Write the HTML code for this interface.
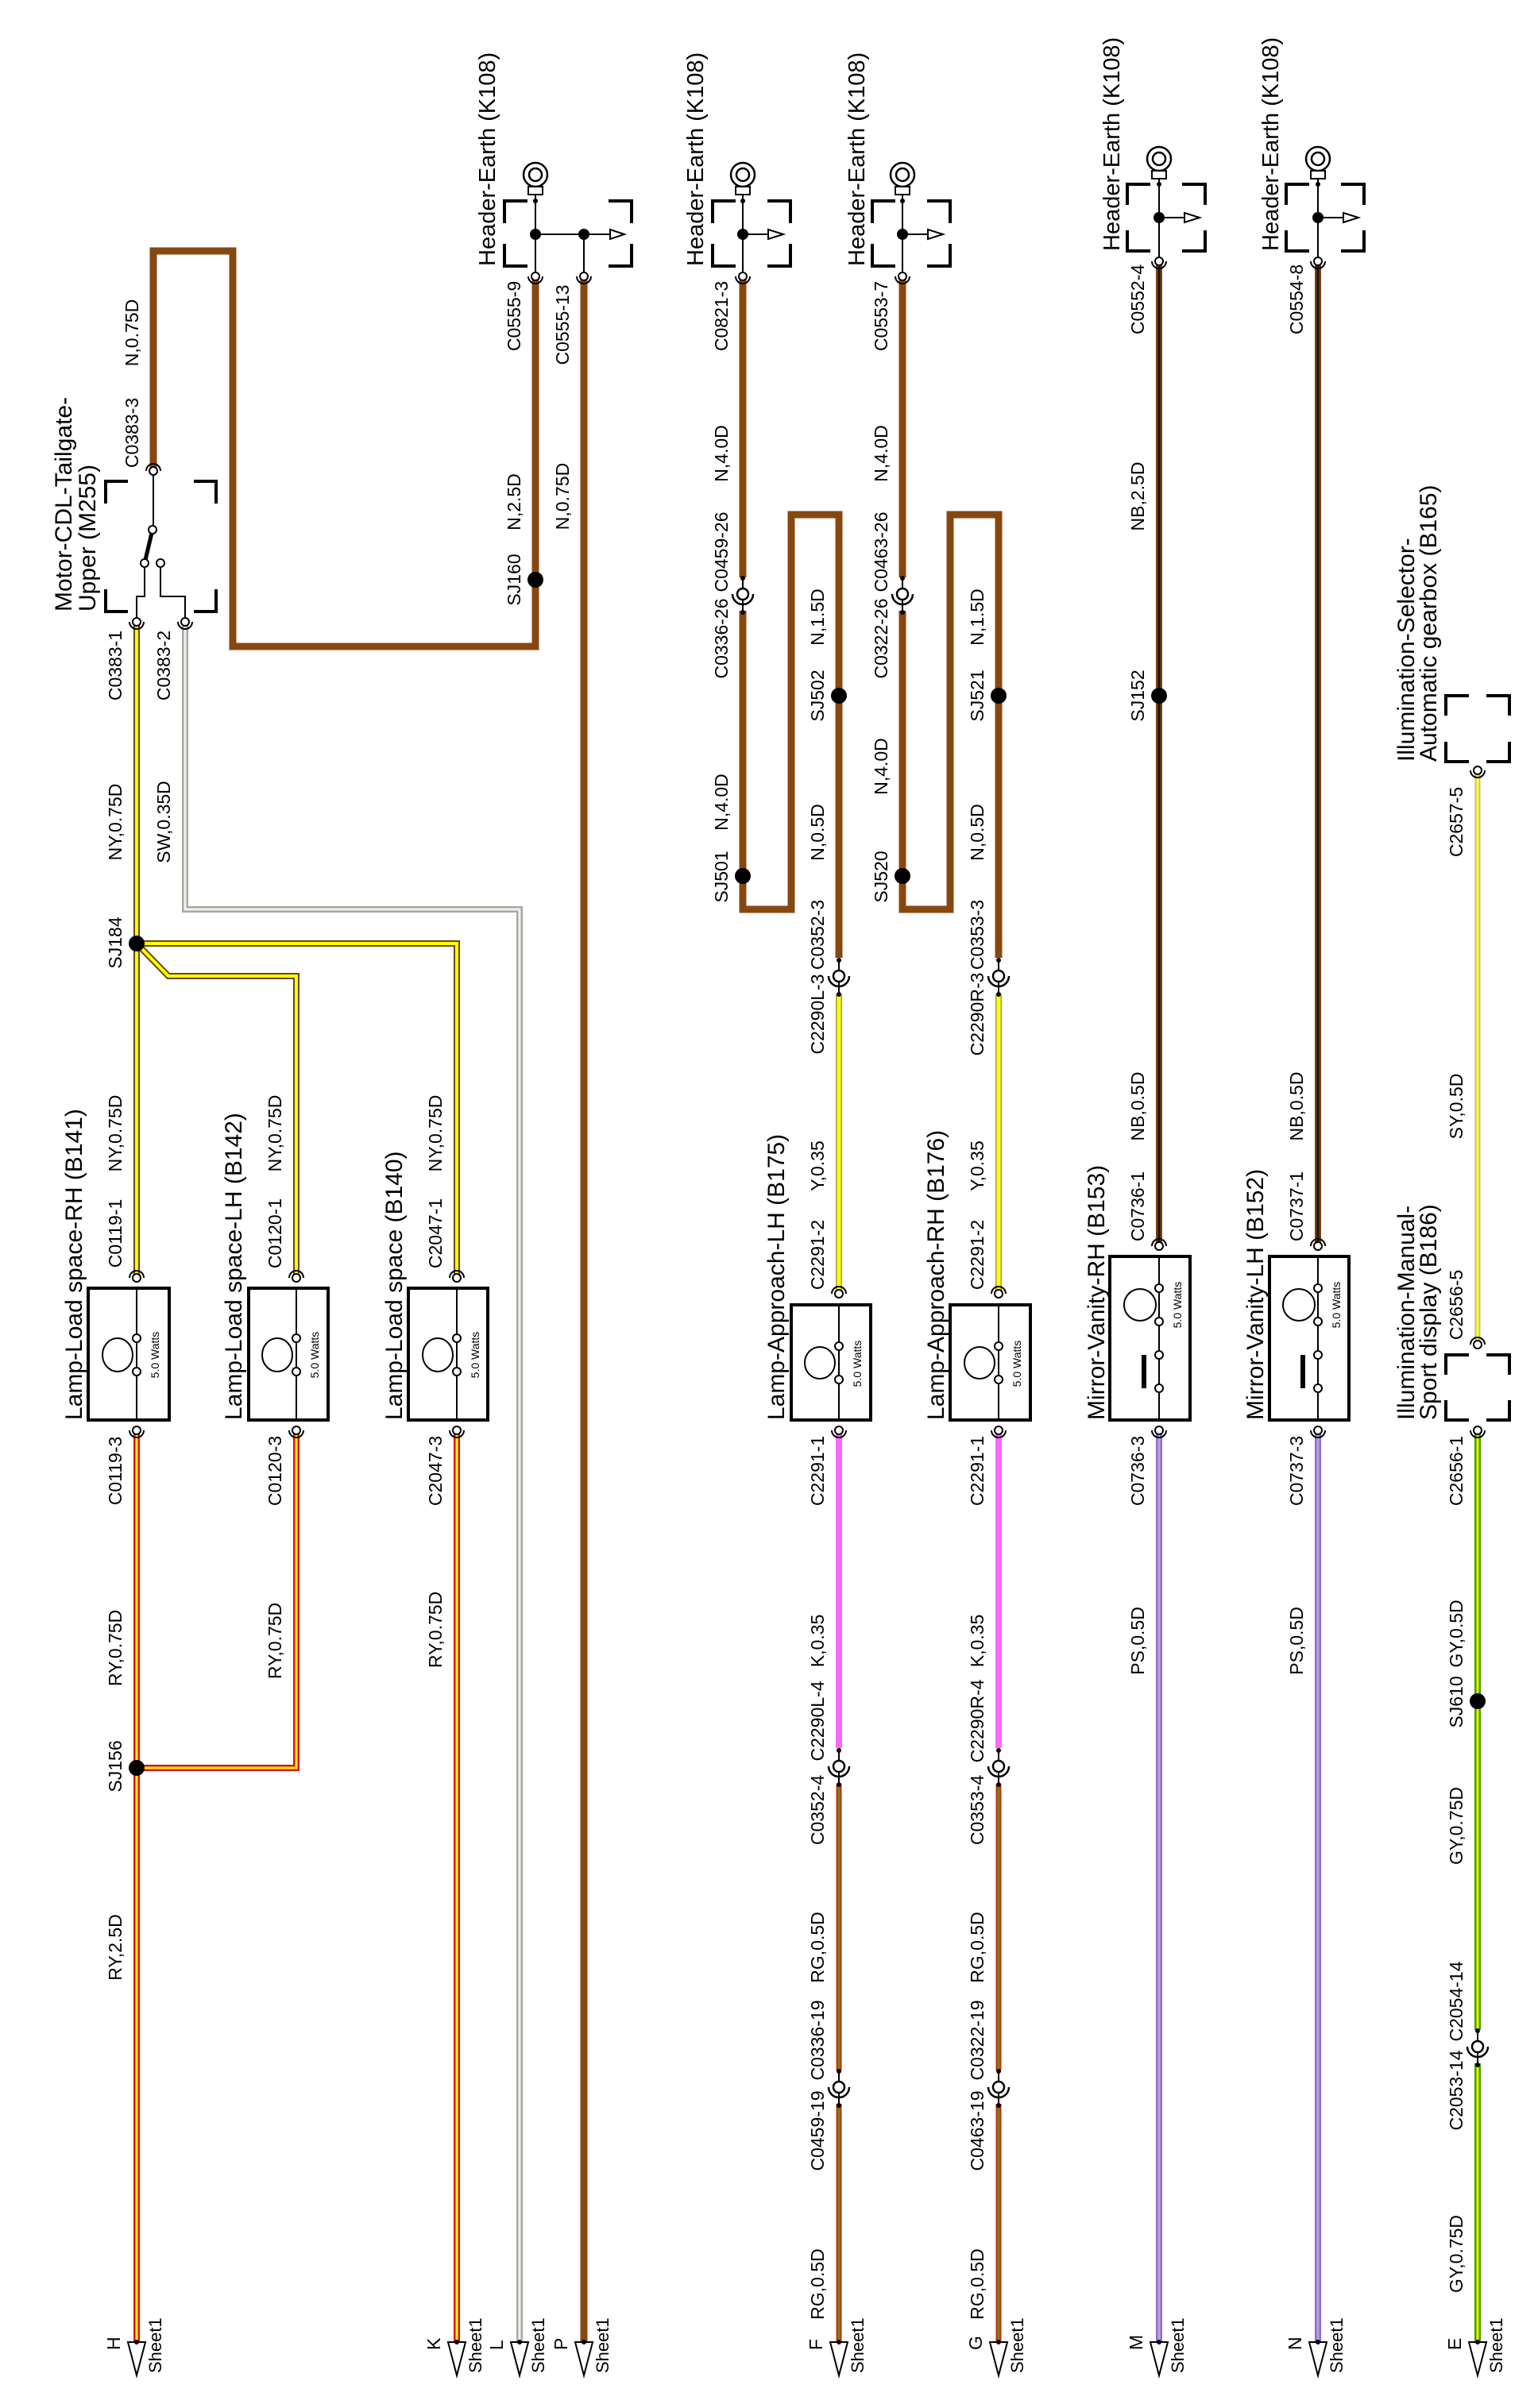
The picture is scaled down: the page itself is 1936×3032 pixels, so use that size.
<!DOCTYPE html>
<html><head><meta charset="utf-8"><style>
html,body{margin:0;padding:0;background:#fff;}
svg{display:block;}
text{font-family:"Liberation Sans",Arial,sans-serif;fill:#000;}
.l{font-size:23px;}
.t{font-size:30px;}
.h{font-size:29px;}
.w{font-size:14px;}
.s{font-size:22px;}
</style></head><body>
<svg width="1936" height="3032" viewBox="0 0 1936 3032" xmlns="http://www.w3.org/2000/svg">
<defs>
<g id="ca"><circle r="5" fill="#fff" stroke="#000" stroke-width="2"/><path d="M-9,0 A9,9 0 0 1 9,0" fill="none" stroke="#000" stroke-width="2"/></g>
<g id="cb"><circle r="5" fill="#fff" stroke="#000" stroke-width="2"/><path d="M-9,0 A9,9 0 0 0 9,0" fill="none" stroke="#000" stroke-width="2"/></g>
<g id="ic"><rect x="-7" y="-21" width="14" height="42" fill="#fff"/><line x1="0" y1="-20" x2="0" y2="22" stroke="#000" stroke-width="2"/><circle cy="-20" r="3" fill="#000"/><circle cy="23" r="3" fill="#000"/><circle r="7" fill="#fff" stroke="#000" stroke-width="2.5"/><path d="M-13,0 A13,13 0 0 0 13,0" fill="none" stroke="#000" stroke-width="2.5"/></g>
<g id="ar"><polygon points="-11,0 11,0 0,42" fill="#fff" stroke="#000" stroke-width="2"/><circle r="3" fill="#000"/></g>
<g id="ring"><circle r="15" fill="#fff" stroke="#000" stroke-width="2.5"/><circle r="8" fill="none" stroke="#000" stroke-width="2.5"/><rect x="-9" y="15" width="18" height="10" fill="#fff" stroke="#000" stroke-width="2"/></g>
</defs>
<rect width="1936" height="3032" fill="#fff"/>

<g fill="none">
<path d="M193,593 V316 H293 V814 H674 V348" stroke="#87480f" stroke-width="9"/>
<path d="M735,348 V2949" stroke="#87480f" stroke-width="9"/>
<path d="M935,348 V1145 H996 V648 H1056 V1206" stroke="#87480f" stroke-width="9"/>
<path d="M1136,348 V1145 H1196 V648 H1257 V1206" stroke="#87480f" stroke-width="9"/>
<g stroke="#6b4a10" stroke-width="8"><path d="M172,783 V1609"/><path d="M172,1188 H575 V1609"/><path d="M172,1188 L212,1229 H373 V1609"/></g>
<g stroke="#ffff00" stroke-width="4"><path d="M172,783 V1609"/><path d="M172,1188 H575 V1609"/><path d="M172,1188 L212,1229 H373 V1609"/></g>
<path d="M233,783 V1145 H654 V2949" stroke="#a8a8a0" stroke-width="8"/>
<path d="M233,783 V1145 H654 V2949" stroke="#f2f2f2" stroke-width="3"/>
<g stroke="#e01010" stroke-width="8"><path d="M172,1801 V2949"/><path d="M172,2226 H373 V1801"/><path d="M575,1801 V2949"/></g>
<g stroke="#ffff00" stroke-width="3"><path d="M172,1801 V2949"/><path d="M172,2226 H373 V1801"/><path d="M575,1801 V2949"/></g>
<g stroke="#9c9c50" stroke-width="8"><path d="M1056,1252 V1629"/><path d="M1257,1252 V1629"/></g>
<g stroke="#ffff00" stroke-width="5"><path d="M1056,1252 V1629"/><path d="M1257,1252 V1629"/></g>
<g stroke="#ff66ff" stroke-width="8"><path d="M1056,1801 V2201"/><path d="M1257,1801 V2201"/></g>
<g stroke="#d42a00" stroke-width="7"><path d="M1056,2247 V2949"/><path d="M1257,2247 V2949"/></g>
<g stroke="#5f8d2a" stroke-width="3"><path d="M1056,2247 V2949"/><path d="M1257,2247 V2949"/></g>
<g stroke="#7a4210" stroke-width="8"><path d="M1459,329 V1569"/><path d="M1659,329 V1569"/></g>
<g stroke="#151515" stroke-width="3"><path d="M1459,329 V1569"/><path d="M1659,329 V1569"/></g>
<g stroke="#8f70c4" stroke-width="8"><path d="M1459,1801 V2949"/><path d="M1659,1801 V2949"/></g>
<g stroke="#b9a2e4" stroke-width="3"><path d="M1459,1801 V2949"/><path d="M1659,1801 V2949"/></g>
<path d="M1860,970 V1693" stroke="#c8c070" stroke-width="7"/>
<path d="M1860,970 V1693" stroke="#ffff40" stroke-width="3"/>
<path d="M1860,1801 V2949" stroke="#40a000" stroke-width="8"/>
<path d="M1860,1801 V2949" stroke="#f0f000" stroke-width="3"/>
</g>

<use href="#ic" x="935" y="748"/><use href="#ic" x="1136" y="748"/>
<use href="#ic" x="1056" y="1229"/><use href="#ic" x="1257" y="1229"/>
<use href="#ic" x="1056" y="2224"/><use href="#ic" x="1257" y="2224"/>
<use href="#ic" x="1056" y="2628"/><use href="#ic" x="1257" y="2628"/>
<use href="#ic" x="1860" y="2577"/>

<g fill="#000">
<circle cx="674" cy="730" r="10"/><circle cx="172" cy="1188" r="10"/><circle cx="172" cy="2226" r="10"/>
<circle cx="935" cy="1103" r="10"/><circle cx="1056" cy="876" r="10"/><circle cx="1136" cy="1103" r="10"/>
<circle cx="1257" cy="876" r="10"/><circle cx="1459" cy="876" r="10"/><circle cx="1860" cy="2142" r="10"/>
</g>

<use href="#ar" x="172" y="2949"/><use href="#ar" x="575" y="2949"/><use href="#ar" x="654" y="2949"/>
<use href="#ar" x="735" y="2949"/><use href="#ar" x="1056" y="2949"/><use href="#ar" x="1257" y="2949"/>
<use href="#ar" x="1459" y="2949"/><use href="#ar" x="1659" y="2949"/><use href="#ar" x="1860" y="2949"/>

<g stroke="#000" fill="none">
<line x1="674" y1="245" x2="674" y2="348" stroke-width="2"/>
<line x1="674" y1="295" x2="768" y2="295" stroke-width="2"/>
<line x1="735" y1="295" x2="735" y2="348" stroke-width="2"/>
<polygon points="768,289 768,301 786,295" fill="#fff" stroke-width="2"/>
<path d="M664,253 H635 V281 M766,253 H795 V281 M635,307 V335 H664 M795,307 V335 H766" stroke-width="4"/>
<line x1="935" y1="245" x2="935" y2="348" stroke-width="2"/>
<line x1="935" y1="295" x2="967" y2="295" stroke-width="2"/>
<polygon points="967,289 967,301 986,295" fill="#fff" stroke-width="2"/>
<path d="M926,253 H897 V281 M966,253 H995 V281 M897,307 V335 H926 M995,307 V335 H966" stroke-width="4"/>
<line x1="1136" y1="245" x2="1136" y2="348" stroke-width="2"/>
<line x1="1136" y1="295" x2="1168" y2="295" stroke-width="2"/>
<polygon points="1168,289 1168,301 1187,295" fill="#fff" stroke-width="2"/>
<path d="M1127,253 H1098 V281 M1167,253 H1196 V281 M1098,307 V335 H1127 M1196,307 V335 H1167" stroke-width="4"/>
<line x1="1459" y1="225" x2="1459" y2="329" stroke-width="2"/>
<line x1="1459" y1="274" x2="1491" y2="274" stroke-width="2"/>
<polygon points="1491,268 1491,280 1510,274" fill="#fff" stroke-width="2"/>
<path d="M1448,232 H1419 V258 M1488,232 H1517 V258 M1419,290 V316 H1448 M1517,290 V316 H1488" stroke-width="4"/>
<line x1="1659" y1="225" x2="1659" y2="329" stroke-width="2"/>
<line x1="1659" y1="274" x2="1691" y2="274" stroke-width="2"/>
<polygon points="1691,268 1691,280 1710,274" fill="#fff" stroke-width="2"/>
<path d="M1648,232 H1619 V258 M1688,232 H1717 V258 M1619,290 V316 H1648 M1717,290 V316 H1688" stroke-width="4"/>
<path d="M1849,876 H1820 V901 M1871,876 H1900 V901 M1820,934 V959 H1849 M1900,934 V959 H1871" stroke-width="4"/>
<path d="M1849,1706 H1820 V1731 M1871,1706 H1900 V1731 M1820,1763 V1788 H1849 M1900,1763 V1788 H1871" stroke-width="4"/>
<path d="M161,606 H133 V634 M244,606 H272 V634 M133,742 V770 H161 M272,742 V770 H244" stroke-width="4"/>
<path d="M193,593 V667" stroke-width="2"/>
<path d="M192,667 L182,709" stroke-width="5"/>
<path d="M182,709 V751 H172 V783 M202,709 V751 H233 V783" stroke-width="2"/>
</g>
<g fill="#fff" stroke="#000" stroke-width="2">
<circle cx="192" cy="667" r="5"/><circle cx="182" cy="709" r="5"/><circle cx="202" cy="709" r="5"/>
</g>
<use href="#ring" x="674" y="220"/><use href="#ring" x="935" y="220"/><use href="#ring" x="1136" y="220"/>
<use href="#ring" x="1459" y="200"/><use href="#ring" x="1659" y="200"/>
<g fill="#000">
<circle cx="674" cy="295" r="7"/><circle cx="735" cy="295" r="7"/><circle cx="935" cy="295" r="7"/>
<circle cx="1136" cy="295" r="7"/><circle cx="1459" cy="274" r="7"/><circle cx="1659" cy="274" r="7"/>
<circle cx="674" cy="253" r="3"/><circle cx="935" cy="253" r="3"/><circle cx="1136" cy="253" r="3"/>
<circle cx="1459" cy="232" r="3"/><circle cx="1659" cy="232" r="3"/>
</g>

<g stroke="#000" fill="#fff">
<rect x="111" y="1622" width="102" height="166" stroke-width="4"/>
<rect x="313" y="1622" width="100" height="166" stroke-width="4"/>
<rect x="514" y="1622" width="100" height="166" stroke-width="4"/>
<rect x="996" y="1643" width="100" height="145" stroke-width="4"/>
<rect x="1196" y="1643" width="101" height="145" stroke-width="4"/>
<rect x="1397" y="1582" width="101" height="206" stroke-width="4"/>
<rect x="1598" y="1582" width="100" height="206" stroke-width="4"/>
</g>
<g stroke="#000" stroke-width="2" fill="none">
<path d="M172,1622 V1788 M373,1622 V1788 M575,1622 V1788 M1056,1643 V1788 M1257,1643 V1788 M1459,1582 V1788 M1659,1582 V1788"/>
<ellipse cx="148" cy="1706" rx="19" ry="21"/>
<ellipse cx="349" cy="1706" rx="19" ry="21"/>
<ellipse cx="551" cy="1706" rx="19" ry="21"/>
<ellipse cx="1032" cy="1716" rx="19" ry="20"/>
<ellipse cx="1233" cy="1716" rx="19" ry="20"/>
<ellipse cx="1435" cy="1643" rx="20" ry="20"/>
<ellipse cx="1635" cy="1643" rx="20" ry="20"/>
</g>
<g fill="#fff" stroke="#000" stroke-width="2">
<circle cx="172" cy="1685" r="5"/><circle cx="172" cy="1727" r="5"/>
<circle cx="373" cy="1685" r="5"/><circle cx="373" cy="1727" r="5"/>
<circle cx="575" cy="1685" r="5"/><circle cx="575" cy="1727" r="5"/>
<circle cx="1056" cy="1695" r="5"/><circle cx="1056" cy="1737" r="5"/>
<circle cx="1257" cy="1695" r="5"/><circle cx="1257" cy="1737" r="5"/>
<circle cx="1459" cy="1622" r="5"/><circle cx="1459" cy="1664" r="5"/><circle cx="1459" cy="1706" r="5"/><circle cx="1459" cy="1748" r="5"/>
<circle cx="1659" cy="1622" r="5"/><circle cx="1659" cy="1664" r="5"/><circle cx="1659" cy="1706" r="5"/><circle cx="1659" cy="1748" r="5"/>
</g>
<rect x="1437" y="1706" width="6" height="42" fill="#000"/>
<rect x="1637" y="1706" width="6" height="42" fill="#000"/>

<use href="#ca" x="193" y="593"/>
<use href="#cb" x="172" y="783"/><use href="#cb" x="233" y="783"/>
<use href="#cb" x="674" y="348"/><use href="#cb" x="735" y="348"/><use href="#cb" x="935" y="348"/><use href="#cb" x="1136" y="348"/>
<use href="#cb" x="1459" y="329"/><use href="#cb" x="1659" y="329"/><use href="#cb" x="1860" y="970"/>
<use href="#ca" x="172" y="1609"/><use href="#ca" x="373" y="1609"/><use href="#ca" x="575" y="1609"/>
<use href="#ca" x="1056" y="1629"/><use href="#ca" x="1257" y="1629"/>
<use href="#ca" x="1459" y="1569"/><use href="#ca" x="1659" y="1569"/><use href="#ca" x="1860" y="1693"/>
<use href="#cb" x="172" y="1801"/><use href="#cb" x="373" y="1801"/><use href="#cb" x="575" y="1801"/>
<use href="#cb" x="1056" y="1801"/><use href="#cb" x="1257" y="1801"/><use href="#cb" x="1459" y="1801"/>
<use href="#cb" x="1659" y="1801"/><use href="#cb" x="1860" y="1801"/>

<g class="t">
<text class="t" transform="translate(90,770) rotate(-90)">Motor-CDL-Tailgate-</text>
<text class="t" transform="translate(120,770) rotate(-90)">Upper (M255)</text>
<text class="t" transform="translate(103,1788) rotate(-90)">Lamp-Load space-RH (B141)</text>
<text class="t" transform="translate(304,1788) rotate(-90)">Lamp-Load space-LH (B142)</text>
<text class="t" transform="translate(506,1788) rotate(-90)">Lamp-Load space (B140)</text>
<text class="t" transform="translate(987,1788) rotate(-90)">Lamp-Approach-LH (B175)</text>
<text class="t" transform="translate(1188,1788) rotate(-90)">Lamp-Approach-RH (B176)</text>
<text class="t" transform="translate(1390,1788) rotate(-90)">Mirror-Vanity-RH (B153)</text>
<text class="t" transform="translate(1590,1788) rotate(-90)">Mirror-Vanity-LH (B152)</text>
<text class="t" transform="translate(1780,959) rotate(-90)">Illumination-Selector-</text>
<text class="t" transform="translate(1808,959) rotate(-90)">Automatic gearbox (B165)</text>
<text class="t" transform="translate(1780,1788) rotate(-90)">Illumination-Manual-</text>
<text class="t" transform="translate(1808,1788) rotate(-90)">Sport display (B186)</text>
<text class="h" transform="translate(623,335) rotate(-90)">Header-Earth (K108)</text>
<text class="h" transform="translate(885,335) rotate(-90)">Header-Earth (K108)</text>
<text class="h" transform="translate(1088,335) rotate(-90)">Header-Earth (K108)</text>
<text class="h" transform="translate(1409,316) rotate(-90)">Header-Earth (K108)</text>
<text class="h" transform="translate(1609,316) rotate(-90)">Header-Earth (K108)</text>
</g>

<g class="w" text-anchor="middle">
<text class="w" transform="translate(200,1706) rotate(-90)">5.0 Watts</text>
<text class="w" transform="translate(401,1706) rotate(-90)">5.0 Watts</text>
<text class="w" transform="translate(603,1706) rotate(-90)">5.0 Watts</text>
<text class="w" transform="translate(1084,1717) rotate(-90)">5.0 Watts</text>
<text class="w" transform="translate(1285,1717) rotate(-90)">5.0 Watts</text>
<text class="w" transform="translate(1487,1643) rotate(-90)">5.0 Watts</text>
<text class="w" transform="translate(1687,1643) rotate(-90)">5.0 Watts</text>
</g>

<g text-anchor="middle">
<text class="l" transform="translate(174,545) rotate(-90)">C0383-3</text>
<text class="l" transform="translate(174,419) rotate(-90)">N,0.75D</text>
<text class="l" transform="translate(153,838) rotate(-90)">C0383-1</text>
<text class="l" transform="translate(214,838) rotate(-90)">C0383-2</text>
<text class="l" transform="translate(153,1035) rotate(-90)">NY,0.75D</text>
<text class="l" transform="translate(214,1035) rotate(-90)">SW,0.35D</text>
<text class="l" transform="translate(153,1187) rotate(-90)">SJ184</text>
<text class="l" transform="translate(153,1427) rotate(-90)">NY,0.75D</text>
<text class="l" transform="translate(153,1553) rotate(-90)">C0119-1</text>
<text class="l" transform="translate(153,1852) rotate(-90)">C0119-3</text>
<text class="l" transform="translate(153,2075) rotate(-90)">RY,0.75D</text>
<text class="l" transform="translate(153,2224) rotate(-90)">SJ156</text>
<text class="l" transform="translate(153,2452) rotate(-90)">RY,2.5D</text>
<text class="l" transform="translate(354,1427) rotate(-90)">NY,0.75D</text>
<text class="l" transform="translate(354,1553) rotate(-90)">C0120-1</text>
<text class="l" transform="translate(354,1852) rotate(-90)">C0120-3</text>
<text class="l" transform="translate(354,2066) rotate(-90)">RY,0.75D</text>
<text class="l" transform="translate(556,1427) rotate(-90)">NY,0.75D</text>
<text class="l" transform="translate(556,1553) rotate(-90)">C2047-1</text>
<text class="l" transform="translate(556,1852) rotate(-90)">C2047-3</text>
<text class="l" transform="translate(556,2052) rotate(-90)">RY,0.75D</text>
<text class="l" transform="translate(655,398) rotate(-90)">C0555-9</text>
<text class="l" transform="translate(716,409) rotate(-90)">C0555-13</text>
<text class="l" transform="translate(655,632) rotate(-90)">N,2.5D</text>
<text class="l" transform="translate(655,730) rotate(-90)">SJ160</text>
<text class="l" transform="translate(716,625) rotate(-90)">N,0.75D</text>
<text class="l" transform="translate(916,398) rotate(-90)">C0821-3</text>
<text class="l" transform="translate(916,571) rotate(-90)">N,4.0D</text>
<text class="l" transform="translate(916,695) rotate(-90)">C0459-26</text>
<text class="l" transform="translate(916,804) rotate(-90)">C0336-26</text>
<text class="l" transform="translate(916,1010) rotate(-90)">N,4.0D</text>
<text class="l" transform="translate(916,1104) rotate(-90)">SJ501</text>
<text class="l" transform="translate(1037,777) rotate(-90)">N,1.5D</text>
<text class="l" transform="translate(1037,876) rotate(-90)">SJ502</text>
<text class="l" transform="translate(1037,1048) rotate(-90)">N,0.5D</text>
<text class="l" transform="translate(1037,1177) rotate(-90)">C0352-3</text>
<text class="l" transform="translate(1037,1277) rotate(-90)">C2290L-3</text>
<text class="l" transform="translate(1037,1468) rotate(-90)">Y,0.35</text>
<text class="l" transform="translate(1037,1580) rotate(-90)">C2291-2</text>
<text class="l" transform="translate(1037,1852) rotate(-90)">C2291-1</text>
<text class="l" transform="translate(1037,2066) rotate(-90)">K,0.35</text>
<text class="l" transform="translate(1037,2167) rotate(-90)">C2290L-4</text>
<text class="l" transform="translate(1037,2279) rotate(-90)">C0352-4</text>
<text class="l" transform="translate(1037,2452) rotate(-90)">RG,0.5D</text>
<text class="l" transform="translate(1037,2569) rotate(-90)">C0336-19</text>
<text class="l" transform="translate(1037,2683) rotate(-90)">C0459-19</text>
<text class="l" transform="translate(1037,2876) rotate(-90)">RG,0.5D</text>
<text class="l" transform="translate(1117,398) rotate(-90)">C0553-7</text>
<text class="l" transform="translate(1117,571) rotate(-90)">N,4.0D</text>
<text class="l" transform="translate(1117,695) rotate(-90)">C0463-26</text>
<text class="l" transform="translate(1117,804) rotate(-90)">C0322-26</text>
<text class="l" transform="translate(1117,965) rotate(-90)">N,4.0D</text>
<text class="l" transform="translate(1117,1104) rotate(-90)">SJ520</text>
<text class="l" transform="translate(1238,777) rotate(-90)">N,1.5D</text>
<text class="l" transform="translate(1238,876) rotate(-90)">SJ521</text>
<text class="l" transform="translate(1238,1048) rotate(-90)">N,0.5D</text>
<text class="l" transform="translate(1238,1177) rotate(-90)">C0353-3</text>
<text class="l" transform="translate(1238,1277) rotate(-90)">C2290R-3</text>
<text class="l" transform="translate(1238,1468) rotate(-90)">Y,0.35</text>
<text class="l" transform="translate(1238,1580) rotate(-90)">C2291-2</text>
<text class="l" transform="translate(1238,1852) rotate(-90)">C2291-1</text>
<text class="l" transform="translate(1238,2066) rotate(-90)">K,0.35</text>
<text class="l" transform="translate(1238,2167) rotate(-90)">C2290R-4</text>
<text class="l" transform="translate(1238,2279) rotate(-90)">C0353-4</text>
<text class="l" transform="translate(1238,2452) rotate(-90)">RG,0.5D</text>
<text class="l" transform="translate(1238,2569) rotate(-90)">C0322-19</text>
<text class="l" transform="translate(1238,2683) rotate(-90)">C0463-19</text>
<text class="l" transform="translate(1238,2876) rotate(-90)">RG,0.5D</text>
<text class="l" transform="translate(1440,377) rotate(-90)">C0552-4</text>
<text class="l" transform="translate(1440,625) rotate(-90)">NB,2.5D</text>
<text class="l" transform="translate(1440,876) rotate(-90)">SJ152</text>
<text class="l" transform="translate(1440,1393) rotate(-90)">NB,0.5D</text>
<text class="l" transform="translate(1440,1519) rotate(-90)">C0736-1</text>
<text class="l" transform="translate(1440,1852) rotate(-90)">C0736-3</text>
<text class="l" transform="translate(1440,2066) rotate(-90)">PS,0.5D</text>
<text class="l" transform="translate(1640,377) rotate(-90)">C0554-8</text>
<text class="l" transform="translate(1640,1393) rotate(-90)">NB,0.5D</text>
<text class="l" transform="translate(1640,1519) rotate(-90)">C0737-1</text>
<text class="l" transform="translate(1640,1852) rotate(-90)">C0737-3</text>
<text class="l" transform="translate(1640,2066) rotate(-90)">PS,0.5D</text>
<text class="l" transform="translate(1841,1035) rotate(-90)">C2657-5</text>
<text class="l" transform="translate(1841,1393) rotate(-90)">SY,0.5D</text>
<text class="l" transform="translate(1841,1643) rotate(-90)">C2656-5</text>
<text class="l" transform="translate(1841,1852) rotate(-90)">C2656-1</text>
<text class="l" transform="translate(1841,2057) rotate(-90)">GY,0.5D</text>
<text class="l" transform="translate(1841,2143) rotate(-90)">SJ610</text>
<text class="l" transform="translate(1841,2299) rotate(-90)">GY,0.75D</text>
<text class="l" transform="translate(1841,2520) rotate(-90)">C2054-14</text>
<text class="l" transform="translate(1841,2632) rotate(-90)">C2053-14</text>
<text class="l" transform="translate(1841,2838) rotate(-90)">GY,0.75D</text>
</g>

<g>
<text class="l" transform="translate(151,2959) rotate(-90)">H</text>
<text class="l" transform="translate(554,2959) rotate(-90)">K</text>
<text class="l" transform="translate(633,2959) rotate(-90)">L</text>
<text class="l" transform="translate(714,2959) rotate(-90)">P</text>
<text class="l" transform="translate(1035,2959) rotate(-90)">F</text>
<text class="l" transform="translate(1236,2959) rotate(-90)">G</text>
<text class="l" transform="translate(1438,2959) rotate(-90)">M</text>
<text class="l" transform="translate(1638,2959) rotate(-90)">N</text>
<text class="l" transform="translate(1839,2959) rotate(-90)">E</text>
<text class="s" transform="translate(203,2988) rotate(-90)">Sheet1</text>
<text class="s" transform="translate(606,2988) rotate(-90)">Sheet1</text>
<text class="s" transform="translate(685,2988) rotate(-90)">Sheet1</text>
<text class="s" transform="translate(766,2988) rotate(-90)">Sheet1</text>
<text class="s" transform="translate(1087,2988) rotate(-90)">Sheet1</text>
<text class="s" transform="translate(1288,2988) rotate(-90)">Sheet1</text>
<text class="s" transform="translate(1490,2988) rotate(-90)">Sheet1</text>
<text class="s" transform="translate(1690,2988) rotate(-90)">Sheet1</text>
<text class="s" transform="translate(1891,2988) rotate(-90)">Sheet1</text>
</g>
</svg>
</body></html>
